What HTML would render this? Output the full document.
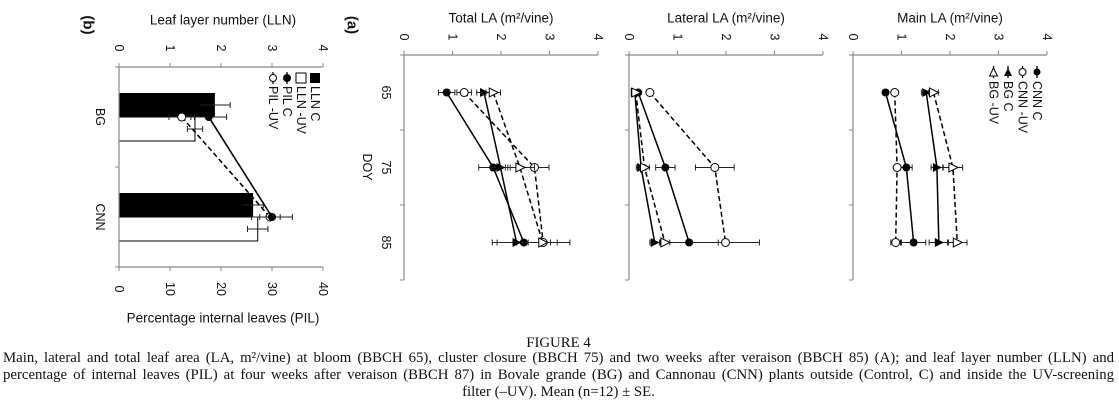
<!DOCTYPE html>
<html><head><meta charset="utf-8"><style>
html,body{margin:0;padding:0;background:#fff;}
body{width:1119px;height:402px;overflow:hidden;position:relative;}
svg{position:absolute;left:0;top:0;}
svg text{font-family:"Liberation Sans",sans-serif;fill:#111;}
.cl{position:absolute;left:3px;width:1111px;font-family:"Liberation Serif",serif;font-size:14.8px;line-height:17px;color:#111;white-space:nowrap;}
.j{text-align:justify;text-align-last:justify;white-space:normal;}
.c{text-align:center;}
</style></head><body>
<svg id="chart" width="1119" height="402" viewBox="0 0 1119 402"></svg>
<div class="cl c" style="top:335px">FIGURE 4</div>
<div>
<div class="cl j" style="top:350px">Main, lateral and total leaf area (LA, m²/vine) at bloom (BBCH 65), cluster closure (BBCH 75) and two weeks after veraison (BBCH 85) (A); and leaf layer number (LLN) and</div>
<div class="cl j" style="top:367px">percentage of internal leaves (PIL) at four weeks after veraison (BBCH 87) in Bovale grande (BG) and Cannonau (CNN) plants outside (Control, C) and inside the UV-screening</div>
<div class="cl c" style="top:384px">filter (–UV). Mean (n=12) ± SE.</div>
</div>
<script>
const doy = ["65","75","85"];
const laTicks = ["0","1","2","3","4"];
const totalCnnC = [0.88,1.84,2.47];
const totalCnnUV = [1.24,2.69,2.87];
const totalBgC = [1.65,1.99,2.32];
const totalBgUV = [1.84,2.39,2.86];
const totalCnnCErr = [0.17,0.3,0.55];
const totalCnnUVErr = [0.15,0.3,0.55];
const totalBgCErr = [0.15,0.2,0.5];
const totalBgUVErr = [0.15,0.3,0.3];
const latCnnC = [0.19,0.75,1.24];
const latCnnUV = [0.43,1.77,1.99];
const latBgC = [0.12,0.25,0.53];
const latBgUV = [0.14,0.32,0.74];
const latCnnCErr = [0.05,0.2,0.6];
const latCnnUVErr = [0.05,0.4,0.7];
const latBgCErr = [0.05,0.1,0.1];
const latBgUVErr = [0.05,0.1,0.1];
const mainCnnC = [0.67,1.10,1.25];
const mainCnnUV = [0.86,0.91,0.88];
const mainBgC = [1.51,1.73,1.77];
const mainBgUV = [1.66,2.06,2.15];
const mainCnnCErr = [0.05,0.12,0.25];
const mainCnnUVErr = [0.05,0.05,0.1];
const mainBgCErr = [0.1,0.12,0.2];
const mainBgUVErr = [0.1,0.2,0.2];
const cultivars = ["BG","CNN"];
const llnC = [1.88,2.63];
const llnUV = [1.49,2.72];
const llnCErr = [0.3,0.2];
const llnUVErr = [0.15,0.2];
const pilC = [17.6,30.0];
const pilUV = [12.3,29.6];
const pilCErr = [3.5,4.0];
const pilUVErr = [2.5,2.0];
const llnTicks = ["0","1","2","3","4"];
const pilTicks = ["0","10","20","30","40"];

const svg = document.getElementById('chart');
const NS = 'http://www.w3.org/2000/svg';
function mk(tag, attrs, parent){const e=document.createElementNS(NS,tag);for(const k in attrs)e.setAttribute(k,attrs[k]);(parent||svg).appendChild(e);return e;}
function txt(x,y,s,size,rot,name,weight){const t=mk('text',{x:x,y:y,'font-size':size,'text-anchor':'middle','dominant-baseline':'central'});if(rot)t.setAttribute('transform','rotate(90 '+x+' '+y+')');if(weight)t.setAttribute('font-weight',weight);t.textContent=s;


return t;}

function marker(g,x,y,type){
  let m;
  if(type==='fc'){m=mk('circle',{cx:x,cy:y,r:4,fill:'#000'},g);}
  else if(type==='oc'){m=mk('circle',{cx:x,cy:y,r:4,fill:'#fff',stroke:'#000','stroke-width':1},g);}
  else if(type==='ft'){m=mk('polygon',{points:(x+5)+','+y+' '+(x-4)+','+(y-4.5)+' '+(x-4)+','+(y+4.5),fill:'#000'},g);}
  else {m=mk('polygon',{points:(x+5)+','+y+' '+(x-4)+','+(y-4.5)+' '+(x-4)+','+(y+4.5),fill:'#fff',stroke:'#000','stroke-width':1},g);}
  
  
}

function laPanel(x0, name, title, series){
  const top=55, bot=280, unit=48.5;
  const X=v=>x0+v*unit;
  const Y=i=>top+37.5+i*75;
  const g=mk('g',{});
  
  
  mk('line',{x1:x0,y1:top,x2:x0+4*unit,y2:top,stroke:'#888','stroke-width':1.2},g);
  mk('line',{x1:x0,y1:top,x2:x0,y2:bot,stroke:'#888','stroke-width':1.2},g);
  laTicks.forEach((t,i)=>{mk('line',{x1:X(i),y1:top,x2:X(i),y2:top-4,stroke:'#888'},g);txt(X(i),37,t,12.5,true,'value-tick-label');});
  for(let i=0;i<=3;i++)mk('line',{x1:x0,y1:top+i*75,x2:x0-4,y2:top+i*75,stroke:'#888'},g);
  txt(x0+2*unit,18,title,13.5,false,'axis-title');
  series.forEach(s=>{
    const pts=s.v.map((v,i)=>X(v)+','+Y(i)).join(' ');
    const pl=mk('polyline',{points:pts,fill:'none',stroke:'#000','stroke-width':1.5,'stroke-dasharray':s.dash?'5,3':'none'},g);
    
    
    s.v.forEach((v,i)=>{
      const e=s.e[i];
      mk('line',{x1:X(v-e),y1:Y(i),x2:X(v+e),y2:Y(i),stroke:'#222','stroke-width':1},g);
      mk('line',{x1:X(v-e),y1:Y(i)-3,x2:X(v-e),y2:Y(i)+3,stroke:'#222'},g);
      mk('line',{x1:X(v+e),y1:Y(i)-3,x2:X(v+e),y2:Y(i)+3,stroke:'#222'},g);
      marker(g,X(v),Y(i),s.m);
    });
  });
}
laPanel(404,'total-la-panel','Total LA (m²/vine)',[
 {v:totalCnnC,e:totalCnnCErr,m:'fc',dash:false},{v:totalCnnUV,e:totalCnnUVErr,m:'oc',dash:true},
 {v:totalBgC,e:totalBgCErr,m:'ft',dash:false},{v:totalBgUV,e:totalBgUVErr,m:'ot',dash:true}]);
laPanel(629,'lateral-la-panel','Lateral LA (m²/vine)',[
 {v:latCnnC,e:latCnnCErr,m:'fc',dash:false},{v:latCnnUV,e:latCnnUVErr,m:'oc',dash:true},
 {v:latBgC,e:latBgCErr,m:'ft',dash:false},{v:latBgUV,e:latBgUVErr,m:'ot',dash:true}]);
laPanel(853,'main-la-panel','Main LA (m²/vine)',[
 {v:mainCnnC,e:mainCnnCErr,m:'fc',dash:false},{v:mainCnnUV,e:mainCnnUVErr,m:'oc',dash:true},
 {v:mainBgC,e:mainBgCErr,m:'ft',dash:false},{v:mainBgUV,e:mainBgUVErr,m:'ot',dash:true}]);

doy.forEach((d,i)=>txt(386,92.5+i*75,d,12.5,true,'doy-label'));
txt(367,167,'DOY',12.5,true,'doy-axis-title');

const lg=['CNN C','CNN -UV','BG C','BG -UV'];
const lm=['fc','oc','ft','ot'];
lg.forEach((s,i)=>{
  const x=1037-i*14.5, y=72;
  const gg=mk('g',{});
  
  
  mk('line',{x1:x,y1:y-6,x2:x,y2:y+6,stroke:'#000','stroke-width':1.3},gg);
  if(lm[i]==='fc')mk('circle',{cx:x,cy:y,r:3.5,fill:'#000'},gg);
  else if(lm[i]==='oc')mk('circle',{cx:x,cy:y,r:3.5,fill:'#fff',stroke:'#000'},gg);
  else if(lm[i]==='ft')mk('polygon',{points:(x-4)+','+(y+4)+' '+(x+4)+','+(y+4)+' '+x+','+(y-4),fill:'#000'},gg);
  else mk('polygon',{points:(x-4)+','+(y+4)+' '+(x+4)+','+(y+4)+' '+x+','+(y-4),fill:'#fff',stroke:'#000'},gg);
  const t=mk('text',{x:x,y:y+9,'font-size':12.5,'dominant-baseline':'central',transform:'rotate(90 '+x+' '+(y+9)+')'},gg);
  t.textContent=s;
});

(function(){
  const x0=119, top=67, bot=267, w=204;
  const X=v=>x0+v*w/4;
  const XP=v=>x0+v*w/40;
  const Yc=i=>top+50+i*100;
  const g=mk('g',{});
  
  
  llnC.forEach((v,i)=>{
    const r=mk('rect',{x:x0,y:Yc(i)-24,width:X(v)-x0,height:24,fill:'#000'},g);
    
    
    const e=llnCErr[i];
    mk('line',{x1:X(v-e),y1:Yc(i)-12,x2:X(v+e),y2:Yc(i)-12,stroke:'#222'},g);
    mk('line',{x1:X(v+e),y1:Yc(i)-15,x2:X(v+e),y2:Yc(i)-9,stroke:'#222'},g);
  });
  llnUV.forEach((v,i)=>{
    const r=mk('rect',{x:x0,y:Yc(i),width:X(v)-x0,height:24,fill:'#fff',stroke:'#000','stroke-width':1},g);
    
    
    const e=llnUVErr[i];
    mk('line',{x1:X(v-e),y1:Yc(i)+12,x2:X(v+e),y2:Yc(i)+12,stroke:'#222'},g);
    mk('line',{x1:X(v+e),y1:Yc(i)+9,x2:X(v+e),y2:Yc(i)+15,stroke:'#222'},g);
    mk('line',{x1:X(v-e),y1:Yc(i)+9,x2:X(v-e),y2:Yc(i)+15,stroke:'#222'},g);
  });
  mk('line',{x1:x0,y1:top,x2:x0+w,y2:top,stroke:'#888','stroke-width':1.2},g);
  mk('line',{x1:x0,y1:bot,x2:x0+w,y2:bot,stroke:'#888','stroke-width':1.2},g);
  mk('line',{x1:x0,y1:top,x2:x0,y2:bot,stroke:'#888','stroke-width':1.2},g);
  llnTicks.forEach((t,i)=>{mk('line',{x1:X(i),y1:top,x2:X(i),y2:top-4,stroke:'#888'},g);txt(X(i),48,t,12.5,true,'lln-tick-label');});
  pilTicks.forEach((t,i)=>{mk('line',{x1:XP(i*10),y1:bot,x2:XP(i*10),y2:bot+4,stroke:'#888'},g);txt(XP(i*10),289,t,12.5,true,'pil-tick-label');});
  for(let i=0;i<=2;i++)mk('line',{x1:x0,y1:top+i*100,x2:x0-4,y2:top+i*100,stroke:'#888'},g);
  [[pilUV,pilUVErr,'oc',true],[pilC,pilCErr,'fc',false]].forEach(s=>{
    const pl=mk('polyline',{points:s[0].map((v,i)=>XP(v)+','+Yc(i)).join(' '),fill:'none',stroke:'#000','stroke-width':1.6,'stroke-dasharray':s[3]?'5,3':'none'},g);
    
    
    s[0].forEach((v,i)=>{const e=s[1][i];
      mk('line',{x1:XP(v-e),y1:Yc(i),x2:XP(v+e),y2:Yc(i),stroke:'#222'},g);
      mk('line',{x1:XP(v+e),y1:Yc(i)-3,x2:XP(v+e),y2:Yc(i)+3,stroke:'#222'},g);
      mk('line',{x1:XP(v-e),y1:Yc(i)-3,x2:XP(v-e),y2:Yc(i)+3,stroke:'#222'},g);
      marker(g,XP(v),Yc(i),s[2]);});
  });
  cultivars.forEach((c,i)=>txt(100,Yc(i),c,12.5,true,'cultivar-label'));
  txt(223,20,'Leaf layer number  (LLN)',13.5,false,'lln-axis-title');
  txt(223,318,'Percentage internal leaves (PIL)',13.5,false,'pil-axis-title');
  const ll=['LLN C','LLN -UV','PIL C','PIL -UV'];
  ll.forEach((s,i)=>{
    const x=315-i*14,y=78;
    const gg=mk('g',{});
    
    
    if(i===0)mk('rect',{x:x-5,y:y-5,width:10,height:10,fill:'#000'},gg);
    else if(i===1)mk('rect',{x:x-5,y:y-5,width:10,height:10,fill:'#fff',stroke:'#000'},gg);
    else {mk('line',{x1:x,y1:y-6,x2:x,y2:y+6,stroke:'#000','stroke-width':1.3},gg);
      mk('circle',{cx:x,cy:y,r:3.5,fill:i===2?'#000':'#fff',stroke:'#000'},gg);}
    const t=mk('text',{x:x,y:y+8,'font-size':12.5,'dominant-baseline':'central',transform:'rotate(90 '+x+' '+(y+8)+')'},gg);
    t.textContent=s;
  });
})();
txt(88,25,'(b)',15,true,'panel-b-label','bold');
txt(352,25,'(a)',15,true,'panel-a-label','bold');
</script>
</body></html>
